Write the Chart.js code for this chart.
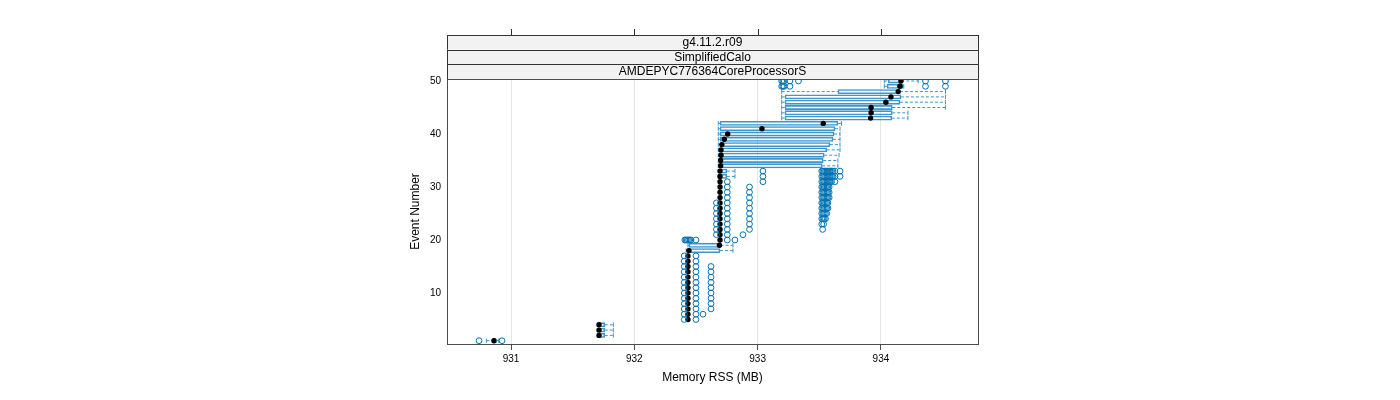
<!DOCTYPE html>
<html>
<head>
<meta charset="utf-8">
<script src="https://cdn.jsdelivr.net/npm/chart.js@4.4.1/dist/chart.umd.min.js"></script>
<style>
  html, body { margin: 0; padding: 0; background: #fff; }
  #wrap { width: 1400px; height: 400px; }
</style>
</head>
<body>
<div id="wrap"><canvas id="bwChart" width="1400" height="400"></canvas></div>
<script>
// event numbers (y) and box-and-whisker stats of Memory RSS (MB) per event
const events = [1,2,3,4,5,6,7,8,9,10,11,12,13,14,15,16,17,18,19,20,21,22,23,24,25,
                26,27,28,29,30,31,32,33,34,35,36,37,38,39,40,41,42,43,44,45,46,47,48,49,50]

const whiskerLow = [930.80, 931.70, 931.70, 931.70,
  932.43, 932.43, 932.43, 932.43, 932.43, 932.43, 932.43, 932.43, 932.43, 932.43, 932.43, 932.43, 932.43,
  932.42, 932.435,
  932.69, 932.69, 932.69, 932.69, 932.69, 932.69, 932.69, 932.69, 932.69, 932.69, 932.69, 932.69,
  932.681, 932.681, 932.681, 932.681, 932.681, 932.681, 932.681, 932.681, 932.681, 932.681, 932.681,
  933.195, 933.195, 933.195, 933.195, 933.195, 933.195,
  934.027, 934.027]

const boxLow = [930.85, 931.705, 931.705, 931.705,
  932.432, 932.432, 932.432, 932.432, 932.432, 932.432, 932.432, 932.432, 932.432, 932.432, 932.432, 932.432, 932.432,
  932.435, 932.443,
  932.69, 932.69, 932.69, 932.69, 932.69, 932.69, 932.69, 932.69, 932.69, 932.69, 932.69, 932.69, 932.69, 932.69,
  932.695, 932.695, 932.695, 932.695, 932.695, 932.695, 932.695, 932.695, 932.695,
  933.222, 933.222, 933.222, 933.222, 933.222, 933.651,
  934.05, 934.06]

const median = [930.862, 931.714, 931.714, 931.714,
  932.435, 932.435, 932.435, 932.435, 932.435, 932.435, 932.435, 932.435, 932.435, 932.435, 932.435, 932.435, 932.435,
  932.443, 932.69,
  932.695, 932.695, 932.695, 932.695, 932.695, 932.695, 932.695, 932.695, 932.695, 932.695, 932.695, 932.695, 932.695, 932.695,
  932.70, 932.70, 932.703, 932.703, 932.71, 932.73, 932.757, 933.035, 933.532,
  933.916, 933.92, 933.92, 934.04, 934.081, 934.14,
  934.154, 934.162]

const boxHigh = [930.88, 931.76, 931.76, 931.76,
  932.438, 932.438, 932.438, 932.438, 932.438, 932.438, 932.438, 932.438, 932.438, 932.438, 932.438, 932.438, 932.438,
  932.695, 932.70,
  932.70, 932.70, 932.70, 932.70, 932.70, 932.70, 932.70, 932.70, 932.70, 932.70, 932.70, 932.70, 932.75, 932.75,
  933.524, 933.532, 933.54, 933.56, 933.586, 933.611, 933.62, 933.627, 933.651,
  934.088, 934.092, 934.092, 934.154, 934.162, 934.154,
  934.18, 934.165]

const whiskerHigh = [930.90, 931.83, 931.83, 931.83,
  932.44, 932.44, 932.44, 932.44, 932.44, 932.44, 932.44, 932.44, 932.44, 932.44, 932.44, 932.44, 932.44,
  932.80, 932.80,
  932.705, 932.705, 932.705, 932.705, 932.705, 932.705, 932.705, 932.705, 932.705, 932.705, 932.705, 932.705, 932.816, 932.816,
  933.651, 933.651, 933.66, 933.668, 933.668, 933.668, 933.668, 933.668, 933.68,
  934.219, 934.219, 934.523, 934.523, 934.523, 934.523,
  934.185, 934.302]

const outliers = [
  [930.741, 930.927],
  [], [], [],
  [932.405, 932.5],
  [932.405, 932.5, 932.557],
  [932.405, 932.5, 932.622],
  [932.405, 932.5, 932.622],
  [932.405, 932.5, 932.622],
  [932.405, 932.5, 932.622],
  [932.405, 932.5, 932.622],
  [932.405, 932.5, 932.622],
  [932.405, 932.5, 932.622],
  [932.405, 932.5, 932.622],
  [932.405, 932.5, 932.622],
  [932.405, 932.5],
  [932.405, 932.5],
  [], [],
  [932.41, 932.42, 932.43, 932.44, 932.45, 932.46, 932.5, 932.754, 932.816],
  [932.666, 932.754, 932.881],
  [932.666, 932.754, 932.934, 933.527],
  [932.666, 932.754, 932.934, 933.52, 933.535],
  [932.666, 932.754, 932.934, 933.52, 933.53, 933.54, 933.55],
  [932.666, 932.754, 932.934, 933.52, 933.53, 933.54, 933.55, 933.56],
  [932.666, 932.754, 932.934, 933.52, 933.53, 933.54, 933.55, 933.56, 933.57],
  [932.666, 932.754, 932.934, 933.52, 933.53, 933.54, 933.55, 933.56, 933.57],
  [932.754, 932.934, 933.52, 933.53, 933.54, 933.55, 933.56, 933.57, 933.58],
  [932.754, 932.934, 933.52, 933.53, 933.54, 933.55, 933.56, 933.57, 933.58],
  [932.754, 932.934, 933.52, 933.53, 933.54, 933.55, 933.56, 933.57, 933.58],
  [932.754, 933.043, 933.52, 933.53, 933.54, 933.55, 933.56, 933.57, 933.58, 933.59, 933.6, 933.627],
  [933.043, 933.52, 933.53, 933.54, 933.55, 933.56, 933.57, 933.58, 933.59, 933.6, 933.61, 933.627, 933.668],
  [933.043, 933.52, 933.53, 933.54, 933.55, 933.56, 933.57, 933.58, 933.59, 933.6, 933.61, 933.627, 933.668],
  [], [], [], [], [], [], [], [], [],
  [], [], [], [], [], [],
  [933.195, 933.205, 933.215, 933.262, 934.361, 934.523],
  [933.195, 933.205, 933.215, 933.262, 933.331, 934.361, 934.523]
]

const xTicks = [931, 932, 933, 934]
const yTicks = [10, 20, 30, 40, 50]
const stripLabels = ['g4.11.2.r09', 'SimplifiedCalo', 'AMDEPYC776364CoreProcessorS']

const BLUE = '#0072B2'
const BOX_BLUE = '#3d95cc'
const FONT = '"Liberation Sans", Arial, sans-serif'

// build the datasets from the arrays above
const boxData = events.map((e, i) => ({ y: e, x: [boxLow[i], boxHigh[i]] }))
const whiskerData = []
events.forEach((e, i) => {
  whiskerData.push({ x: whiskerLow[i], y: e }, { x: boxLow[i], y: e }, { x: null, y: null })
  whiskerData.push({ x: boxHigh[i], y: e }, { x: whiskerHigh[i], y: e }, { x: null, y: null })
})
const capData = events.flatMap((e, i) => [{ x: whiskerLow[i], y: e }, { x: whiskerHigh[i], y: e }])
const medianData = events.map((e, i) => ({ x: median[i], y: e }))
const outlierData = events.flatMap((e, i) => outliers[i].map(v => ({ x: v, y: e })))

// strips above the panel, top axis ticks and the panel frame
const panelDeco = {
  id: 'panelDeco',
  afterDraw(chart) {
    const { ctx, chartArea: a, scales } = chart
    const h = 14.67
    const stripTop = a.top - h * stripLabels.length
    ctx.save()
    stripLabels.forEach((t, k) => {
      const top = stripTop + h * k
      ctx.fillStyle = '#f2f2f2'
      ctx.fillRect(a.left, top, a.right - a.left, h)
      ctx.strokeStyle = '#333'
      ctx.lineWidth = 1
      ctx.strokeRect(Math.round(a.left) + 0.5, Math.round(top) + 0.5, Math.round(a.right - a.left), Math.round(h))
      ctx.fillStyle = '#000'
      ctx.font = '12px ' + FONT
      ctx.textAlign = 'center'
      ctx.textBaseline = 'middle'
      ctx.fillText(t, (a.left + a.right) / 2, top + h / 2 + 0.5)
    })
    ctx.strokeStyle = '#333'
    xTicks.forEach(v => {
      const px = Math.round(scales.x.getPixelForValue(v)) + 0.5
      ctx.beginPath()
      ctx.moveTo(px, Math.round(stripTop) - 6)
      ctx.lineTo(px, Math.round(stripTop))
      ctx.stroke()
    })
    ctx.strokeStyle = '#4d4d4d'
    ctx.strokeRect(Math.round(a.left) + 0.5, Math.round(a.top) + 0.5, Math.round(a.right - a.left), Math.round(a.bottom - a.top))
    ctx.restore()
  }
}

new Chart(document.getElementById('bwChart'), {
  type: 'bar',
  data: {
    datasets: [
      {
        type: 'bar', data: boxData, order: 4,
        backgroundColor: 'rgba(0,0,0,0)', borderColor: BOX_BLUE, borderWidth: 0.9,
        borderSkipped: false, barThickness: 4.2
      },
      {
        type: 'scatter', indexAxis: 'x', data: whiskerData, order: 3,
        showLine: true, spanGaps: false, borderColor: BOX_BLUE, borderWidth: 1,
        borderDash: [3, 2], pointRadius: 0
      },
      {
        type: 'scatter', indexAxis: 'x', data: capData, order: 2,
        pointStyle: 'line', rotation: 90, pointRadius: 2.2,
        borderColor: BOX_BLUE, borderWidth: 1
      },
      {
        type: 'scatter', indexAxis: 'x', data: medianData, order: 1,
        pointStyle: 'circle', pointRadius: 2.7,
        backgroundColor: '#000', borderColor: '#000', borderWidth: 0
      },
      {
        type: 'scatter', indexAxis: 'x', data: outlierData, order: 0,
        pointStyle: 'circle', pointRadius: 2.9,
        backgroundColor: 'rgba(0,0,0,0)', borderColor: BLUE, borderWidth: 1
      }
    ]
  },
  options: {
    indexAxis: 'y',
    responsive: false,
    animation: false,
    devicePixelRatio: 1,
    events: [],
    layout: { padding: { left: 400, right: 422, top: 79, bottom: 0 } },
    plugins: { legend: { display: false }, tooltip: { enabled: false } },
    scales: {
      x: {
        type: 'linear', position: 'bottom', min: 930.481, max: 934.787, offset: false,
        afterBuildTicks: s => { s.ticks = xTicks.map(v => ({ value: v })) },
        afterFit: s => { s.height = 56 },
        grid: { color: '#e6e6e6', tickColor: '#4d4d4d', tickLength: 6, drawOnChartArea: true },
        border: { display: false },
        ticks: { color: '#000', font: { family: FONT, size: 10 }, padding: 3 },
        title: { display: true, text: 'Memory RSS (MB)', color: '#000',
                 font: { family: FONT, size: 12 }, padding: { top: 4, bottom: 15 } }
      },
      y: {
        type: 'linear', position: 'left', min: 0.377, max: 50.377, offset: false,
        afterBuildTicks: s => { s.ticks = yTicks.map(v => ({ value: v })) },
        afterFit: s => { s.width = 47 },
        grid: { display: false, drawTicks: false },
        border: { display: false },
        ticks: { color: '#000', font: { family: FONT, size: 10 }, padding: 6 },
        title: { display: true, text: 'Event Number', color: '#000',
                 font: { family: FONT, size: 12 }, padding: { top: 8, bottom: 0 } }
      }
    }
  },
  plugins: [panelDeco]
})
</script>
</body>
</html>
